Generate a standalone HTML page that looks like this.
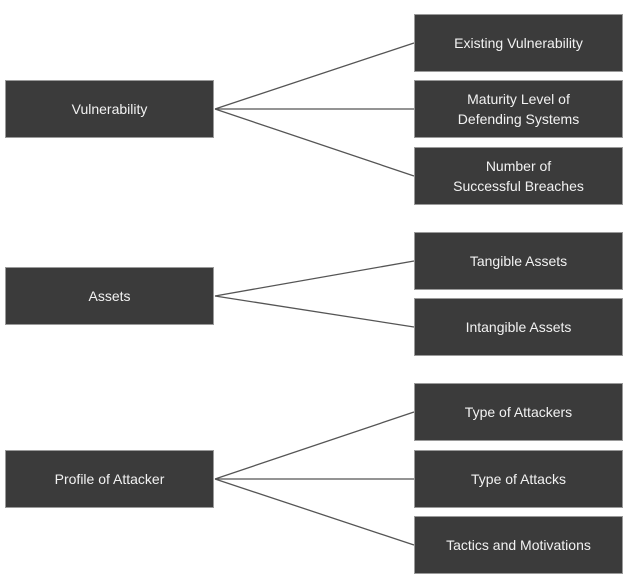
<!DOCTYPE html>
<html><head><style>
body{margin:0;width:630px;height:584px;background:#fff;position:relative;overflow:hidden;font-family:"Liberation Sans",sans-serif}
.b{position:absolute;background:#3b3b3b;border:1px solid #9a9a9a;box-sizing:border-box;color:#f2f2f2;font-size:14px;line-height:20px;display:flex;align-items:center;justify-content:center;text-align:center}
.l{left:5px;width:209px;height:58px}
.r{left:414px;width:209px;height:58px}
svg{position:absolute;left:0;top:0}
</style></head><body>
<svg width="630" height="584"><g stroke="#555" stroke-width="1.3" fill="none">
<line x1="215" y1="109" x2="414" y2="43"/><line x1="215" y1="109" x2="414" y2="109"/><line x1="215" y1="109" x2="414" y2="176"/>
<line x1="215" y1="296" x2="414" y2="261"/><line x1="215" y1="296" x2="414" y2="327"/>
<line x1="215" y1="479" x2="414" y2="412"/><line x1="215" y1="479" x2="414" y2="479"/><line x1="215" y1="479" x2="414" y2="545"/>
</g></svg>
<div class="b l" style="top:80px">Vulnerability</div>
<div class="b r" style="top:14px">Existing Vulnerability</div>
<div class="b r" style="top:80px">Maturity Level of<br>Defending Systems</div>
<div class="b r" style="top:147px">Number of<br>Successful Breaches</div>
<div class="b l" style="top:267px">Assets</div>
<div class="b r" style="top:232px">Tangible Assets</div>
<div class="b r" style="top:298px">Intangible Assets</div>
<div class="b l" style="top:450px">Profile of Attacker</div>
<div class="b r" style="top:383px">Type of Attackers</div>
<div class="b r" style="top:450px">Type of Attacks</div>
<div class="b r" style="top:516px">Tactics and Motivations</div>
</body></html>
